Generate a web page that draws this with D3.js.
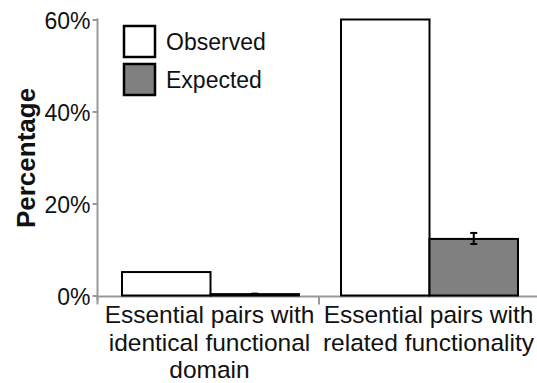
<!DOCTYPE html>
<html>
<head>
<meta charset="utf-8">
<script src="https://cdn.jsdelivr.net/npm/d3@7/dist/d3.min.js"></script>
<style>
  html, body { margin: 0; padding: 0; background: #fff; }
  svg { display: block; }
  text { font-family: "Liberation Sans", Arial, sans-serif; fill: #111; }
</style>
</head>
<body>
<svg id="chart" width="537" height="383"></svg>
<script>
// Category labels (one line per entry)
const categories = [
  ["Essential pairs with", "identical functional", "domain"],
  ["Essential pairs with", "related functionality"]
];
const seriesNames = ["Observed", "Expected"];
const observed = [5.1, 60.0];
const expected = [0.3, 12.3];
const expectedLow = [0.2, 11.2];
const expectedHigh = [0.4, 13.6];
const yTicks = [0, 20, 40, 60];
const tickLabels = ["0%", "20%", "40%", "60%"];
const fills = ["#ffffff", "#808080"];

const svg = d3.select("#chart");
const axisX = 97.5, baseY = 295.5;

const x = d3.scaleBand().domain(d3.range(categories.length)).range([101, 539]);
const inner = d3.scaleBand().domain(d3.range(seriesNames.length))
  .range([21, x.bandwidth() - 21]);
const y = d3.scaleLinear().domain([0, 60]).range([baseY, 19.5]);

// y axis
const yAxis = svg.append("g").attr("transform", `translate(${axisX},0)`)
  .call(d3.axisLeft(y).tickValues(yTicks).tickSize(5).tickPadding(2)
    .tickFormat((d, i) => tickLabels[i]));
yAxis.select(".domain").attr("stroke", "#999").attr("stroke-width", 2)
  .attr("d", `M0,${y(60) - 1}V${baseY + 5}`);
yAxis.selectAll(".tick line").attr("stroke", "#999").attr("stroke-width", 2);
yAxis.selectAll(".tick text").attr("font-size", 23)
  .attr("font-family", "Liberation Sans, Arial, sans-serif").attr("fill", "#111")
  .attr("dy", "0.4em");

// x axis baseline with category separators
const xAxis = svg.append("g").attr("transform", `translate(0,${baseY + 1})`);
xAxis.append("line").attr("x1", axisX).attr("x2", 537)
  .attr("stroke", "#999").attr("stroke-width", 2);
xAxis.selectAll("line.sep").data([axisX, x(1) - 1]).join("line").attr("class", "sep")
  .attr("x1", d => d).attr("x2", d => d).attr("y1", 0).attr("y2", 8)
  .attr("stroke", "#999").attr("stroke-width", 2);

// category labels
const labels = svg.append("g");
categories.forEach((lines, i) => {
  const t = labels.append("text")
    .attr("text-anchor", "middle").attr("font-size", 24.5);
  lines.forEach((ln, j) => {
    t.append("tspan").attr("x", x(i) + x.bandwidth() / 2 - 1)
      .attr("y", 323 + j * 27.5).text(ln);
  });
});

// bars
const values = [observed, expected];
const bars = svg.append("g");
categories.forEach((c, i) => {
  seriesNames.forEach((s, k) => {
    const v = values[k][i];
    bars.append("rect")
      .attr("x", x(i) + inner(k))
      .attr("y", y(v))
      .attr("width", inner.bandwidth())
      .attr("height", baseY - y(v))
      .attr("fill", fills[k]).attr("stroke", "#000").attr("stroke-width", 2);
  });
});

// error bars on the expected series
const eb = svg.append("g").attr("stroke", "#000").attr("stroke-width", 2);
categories.forEach((c, i) => {
  const cx = x(i) + inner(1) + inner.bandwidth() / 2;
  eb.append("line").attr("x1", cx).attr("x2", cx)
    .attr("y1", y(expectedLow[i])).attr("y2", y(expectedHigh[i]));
  [expectedLow[i], expectedHigh[i]].forEach(v => {
    eb.append("line").attr("x1", cx - 3.5).attr("x2", cx + 3.5)
      .attr("y1", y(v)).attr("y2", y(v));
  });
});

// y axis title
svg.append("text")
  .attr("transform", "translate(35,158) rotate(-90)")
  .attr("text-anchor", "middle").attr("font-size", 26).attr("font-weight", "bold")
  .text("Percentage");

// legend
const legend = svg.append("g");
seriesNames.forEach((s, k) => {
  const top = 26 + k * 38;
  legend.append("rect").attr("x", 124).attr("y", top)
    .attr("width", 31).attr("height", 31)
    .attr("fill", fills[k]).attr("stroke", "#000").attr("stroke-width", 2.5);
  legend.append("text").attr("x", 166).attr("y", top + 24)
    .attr("font-size", 23).text(s);
});
</script>
</body>
</html>
